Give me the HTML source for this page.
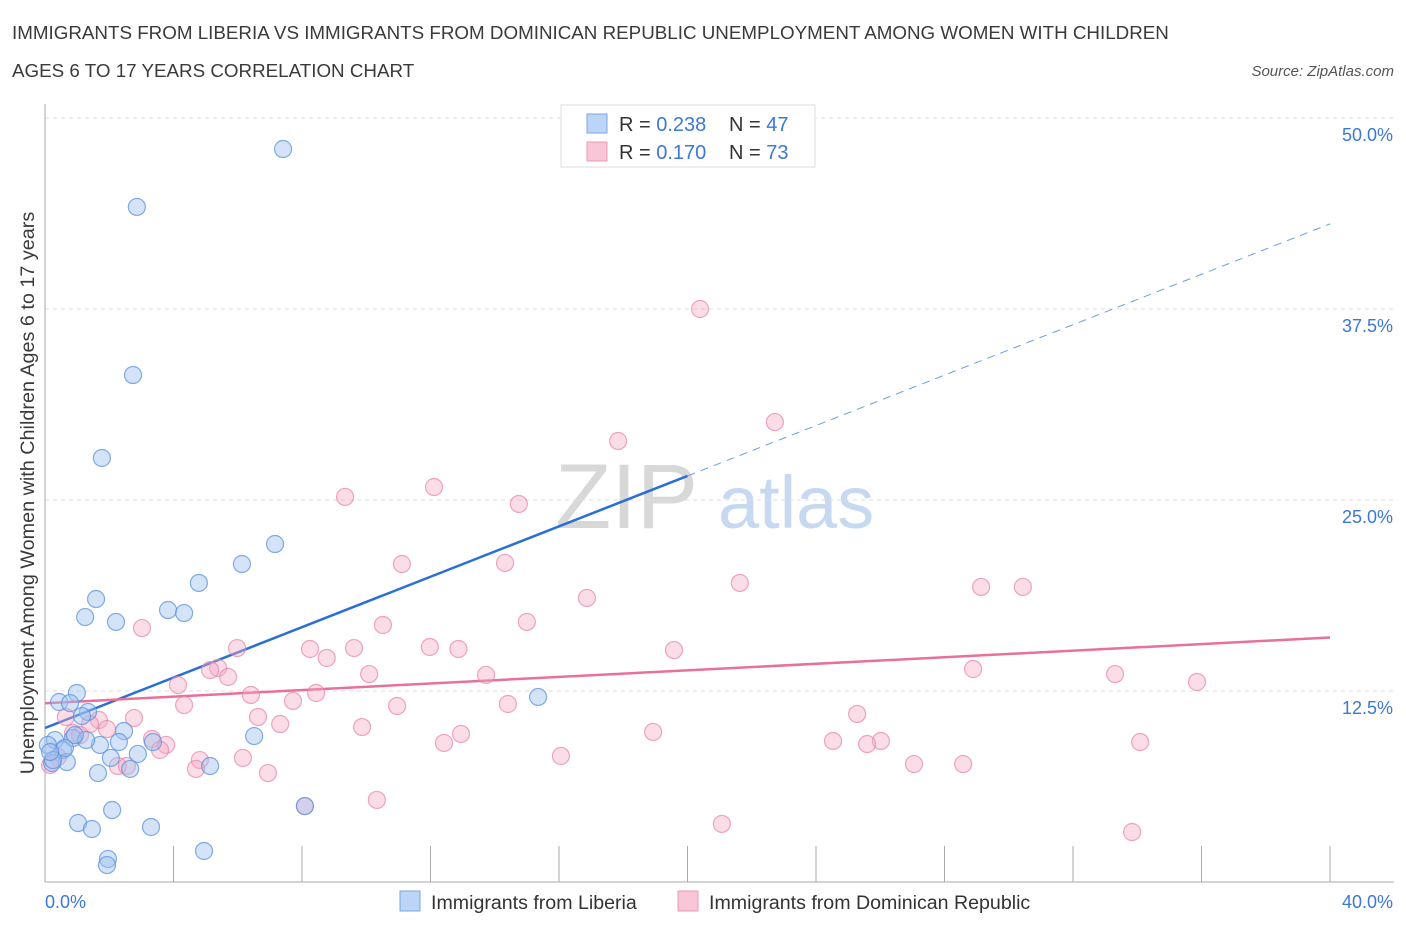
<!DOCTYPE html>
<html><head><meta charset="utf-8"><style>
body{margin:0;background:#fff;font-family:"Liberation Sans",sans-serif;}
svg text{font-family:"Liberation Sans",sans-serif;}
</style></head><body>
<svg id="chart" width="1406" height="930" xmlns="http://www.w3.org/2000/svg">
<text x="12" y="39" font-size="18.8" fill="#3a3a3a">IMMIGRANTS FROM LIBERIA VS IMMIGRANTS FROM DOMINICAN REPUBLIC UNEMPLOYMENT AMONG WOMEN WITH CHILDREN</text>
<text x="12" y="77" font-size="18.8" fill="#3a3a3a">AGES 6 TO 17 YEARS CORRELATION CHART</text>
<text x="1394" y="76" font-size="15" font-style="italic" fill="#555" text-anchor="end">Source: ZipAtlas.com</text>
<g>
<text x="555" y="528" font-size="92" font-family="Liberation Serif,serif" fill="#d8d8d8">ZIP</text>
<text x="718" y="528" font-size="74" fill="#c6d9f1">atlas</text>
</g>
<g id="grid"></g>
<g id="axes"></g>
<g id="lines"></g>
<g id="points"></g>
<text transform="translate(34,493) rotate(-90)" font-size="19.8" fill="#3a3a3a" text-anchor="middle">Unemployment Among Women with Children Ages 6 to 17 years</text>
<g>
<rect x="561" y="105" width="254" height="62" fill="#fff" stroke="#ddd"/>
<rect x="587" y="114" width="20" height="19" fill="#bcd4f5" stroke="#7aa6e3"/>
<rect x="587" y="142" width="20" height="19" fill="#f8c6d6" stroke="#ec9ab6"/>
<text x="619" y="131" font-size="20" fill="#333">R = <tspan fill="#3b78d8">0.238</tspan></text>
<text x="729" y="131" font-size="20" fill="#333">N = <tspan fill="#3b78d8">47</tspan></text>
<text x="619" y="159" font-size="20" fill="#333">R = <tspan fill="#3b78d8"> 0.170</tspan></text>
<text x="729" y="159" font-size="20" fill="#333">N = <tspan fill="#3b78d8">73</tspan></text>
</g>
<g>
<rect x="400" y="891" width="20" height="20" fill="#bcd4f5" stroke="#7aa6e3"/>
<text x="431" y="909" font-size="19.6" fill="#333">Immigrants from Liberia</text>
<rect x="678" y="891" width="20" height="20" fill="#f8c6d6" stroke="#ec9ab6"/>
<text x="709" y="909" font-size="19.6" fill="#333">Immigrants from Dominican Republic</text>
</g>
</svg>
<script>
const yTicks=[12.5,25,37.5,50];
const yTickLabels=["12.5%","25.0%","37.5%","50.0%"];
const xTickCount=10;
const xMin=0,xMax=40,yMin=0,yMax=50;
const liberiaX=[7.41,2.86,2.74,1.77,7.16,6.13,4.79,1.59,3.83,4.33,1.25,2.21,15.35,0.99,0.44,0.78,1.34,1.15,2.46,6.51,0.87,0.31,3.36,2.30,1.71,0.56,2.89,2.05,0.68,0.22,5.14,2.65,1.65,8.09,2.09,1.03,3.30,1.46,4.95,1.96,1.93,0.09,0.25,0.62,1.28,0.16,0.93];
const liberiaY=[47.97,44.18,33.18,27.75,22.12,20.81,19.57,18.52,17.80,17.60,17.34,17.02,12.11,12.37,11.78,11.71,11.13,10.86,9.88,9.55,9.42,9.29,9.16,9.16,8.97,8.64,8.38,8.12,7.85,7.79,7.59,7.40,7.13,4.97,4.71,3.86,3.60,3.47,2.03,1.51,1.11,8.97,7.98,8.77,9.29,8.51,9.62];
const domX=[20.39,22.72,17.84,12.11,9.34,14.75,14.32,11.11,21.63,29.14,30.44,16.87,15.00,10.52,3.02,5.98,11.98,8.25,9.62,12.87,19.58,8.77,5.39,5.14,28.89,10.09,13.73,33.31,5.70,35.86,4.14,8.44,6.41,7.72,4.33,10.96,14.41,25.28,0.65,6.63,2.77,1.68,1.40,7.32,9.87,1.93,0.87,18.93,12.95,3.33,24.53,34.09,12.42,26.02,25.59,3.77,3.58,16.06,6.16,0.40,4.82,27.05,28.58,2.27,2.55,4.70,6.94,0.16,10.33,8.09,21.07,33.84,1.09];
const domY=[37.50,30.10,28.86,25.85,25.20,24.74,20.88,20.81,19.57,19.31,19.31,18.59,17.02,16.82,16.62,15.31,15.38,15.25,15.31,15.25,15.18,14.66,14.01,13.87,13.94,13.61,13.55,13.61,13.42,13.09,12.89,12.37,12.24,11.85,11.58,11.52,11.65,11.00,10.80,10.80,10.73,10.60,10.34,10.34,10.14,10.01,9.75,9.82,9.69,9.36,9.23,9.16,9.10,9.23,9.03,8.97,8.64,8.25,8.12,8.18,7.98,7.72,7.72,7.59,7.59,7.40,7.13,7.66,5.37,4.97,3.80,3.27,9.62];
const liberiaTrend=[10.08,43.07];
const domTrend=[11.7,16.0];
const X0=45,X1=1330,Y0=882,Y1=118;
const sx=v=>X0+(v-xMin)/(xMax-xMin)*(X1-X0);
const sy=v=>Y0-(v-yMin)/(yMax-yMin)*(Y0-Y1);
const NS="http://www.w3.org/2000/svg";
function mk(tag,attrs,parent){const e=document.createElementNS(NS,tag);for(const k in attrs)e.setAttribute(k,attrs[k]);parent.appendChild(e);return e;}
const grid=document.getElementById('grid');
yTicks.forEach((t,i)=>{
 const l=mk('line',{x1:X0,x2:1393,y1:sy(t),y2:sy(t),stroke:'#ddd','stroke-dasharray':'4,4'},grid);
 
 
 const tx=mk('text',{x:1393,y:sy(t)+23,'font-size':18,fill:'#3b78d8','text-anchor':'end'},grid);
 tx.textContent=yTickLabels[i];
 
 
});
const axes=document.getElementById('axes');
const ya=mk('line',{x1:X0,x2:X0,y1:104,y2:Y0,stroke:'#aaa'},axes);


const xa=mk('line',{x1:X0,x2:X1+64,y1:Y0,y2:Y0,stroke:'#aaa'},axes);


for(let i=1;i<=xTickCount;i++){
 const v=xMin+i*(xMax-xMin)/xTickCount;
 const t=mk('line',{x1:sx(v),x2:sx(v),y1:Y0-36,y2:Y0,stroke:'#aaa'},axes);
 
 
}
const xl0=mk('text',{x:45,y:908,'font-size':18,fill:'#3b78d8'},axes);xl0.textContent=xMin.toFixed(1)+'%';


const xl1=mk('text',{x:1393,y:908,'font-size':18,fill:'#3b78d8','text-anchor':'end'},axes);xl1.textContent=xMax.toFixed(1)+'%';


const lines=document.getElementById('lines');
const mid=20,yMid=liberiaTrend[0]+(liberiaTrend[1]-liberiaTrend[0])*mid/40;
const bl=mk('line',{x1:sx(0),y1:sy(liberiaTrend[0]),x2:sx(mid),y2:sy(yMid),stroke:'#2a6fd6','stroke-width':2.5},lines);


const bd=mk('line',{x1:sx(mid),y1:sy(yMid),x2:sx(40),y2:sy(liberiaTrend[1]),stroke:'#6c9ee0','stroke-width':1,'stroke-dasharray':'8,6'},lines);


const pl=mk('line',{x1:sx(0),y1:sy(domTrend[0]),x2:sx(40),y2:sy(domTrend[1]),stroke:'#e8709a','stroke-width':2.5},lines);


const pts=document.getElementById('points');
domX.forEach((x,i)=>{
 const c=mk('circle',{cx:sx(x),cy:sy(domY[i]),r:8.5,fill:'rgba(246,170,196,0.4)',stroke:'rgba(232,130,165,0.7)','stroke-width':1.2},pts);
 
 
});
liberiaX.forEach((x,i)=>{
 const c=mk('circle',{cx:sx(x),cy:sy(liberiaY[i]),r:8.5,fill:'rgba(160,194,240,0.45)',stroke:'rgba(90,145,222,0.75)','stroke-width':1.2},pts);
 
 
});
</script>
</body></html>
